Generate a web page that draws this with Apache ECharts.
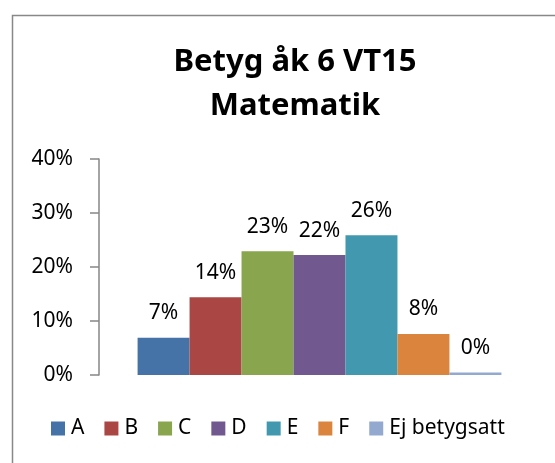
<!DOCTYPE html>
<html style="height: 100%">
<head>
    <meta charset="utf-8">
    <title>Betyg åk 6 VT15</title>
    <script src="https://cdn.jsdelivr.net/npm/echarts/dist/echarts.min.js"></script>
</head>
<body style="height: 100%; margin: 0; background: #fff">
    <div id="main" style="width: 555px; height: 463px"></div>
    <script type="text/javascript">
        var chart = echarts.init(document.getElementById('main'));

        // data (percent)
        var grades = ['A', 'B', 'C', 'D', 'E', 'F', 'Ej betygsatt'];
        var shares = [6.9, 14.4, 22.9, 22.2, 25.9, 7.6, 0.45];
        var colors = ['#4572A7', '#AA4643', '#89A54E', '#71588F', '#4198AF', '#DB843D', '#93A9CF'];
        var yTicks = [0, 10, 20, 30, 40];

        var font = 'Noto Sans';

        var series = grades.map(function (g, i) {
            return {
                name: g,
                type: 'bar',
                data: [shares[i]],
                barGap: '0%',
                barCategoryGap: '17.5%',
                itemStyle: { color: colors[i] },
                label: {
                    show: true,
                    position: 'top',
                    distance: 14,
                    color: '#000',
                    fontFamily: font,
                    fontSize: 21,
                    formatter: function (p) { return Math.round(p.value) + '%'; }
                }
            };
        });

        var option = {
            backgroundColor: '#fff',
            animation: false,
            graphic: [{
                type: 'rect',
                left: 10, top: 13,
                shape: { width: 700, height: 600 },
                style: { fill: 'none', stroke: '#888', lineWidth: 1.5 },
                silent: true
            }],
            title: {
                text: 'Betyg åk 6 VT15\nMatematik',
                left: 290,
                textAlign: 'center',
                top: 35,
                textStyle: {
                    fontFamily: font,
                    fontWeight: 'bold',
                    fontSize: 31,
                    lineHeight: 44,
                    color: '#000'
                }
            },
            legend: {
                data: grades,
                left: 51,
                top: 418,
                padding: 0,
                icon: 'rect',
                itemWidth: 14,
                itemHeight: 14,
                itemGap: 20,
                textStyle: { fontFamily: font, fontSize: 21, color: '#000', padding: [0, 0, 0, 1] }
            },
            grid: { left: 99, right: 15, top: 159, bottom: 88 },
            xAxis: {
                type: 'category',
                data: [''],
                axisLine: { show: false },
                axisTick: { show: false },
                axisLabel: { show: false }
            },
            yAxis: {
                type: 'value',
                min: yTicks[0],
                max: yTicks[yTicks.length - 1],
                interval: 10,
                splitLine: { show: false },
                axisLine: { show: true, lineStyle: { color: '#868686', width: 1.5 } },
                axisTick: { show: true, length: 9, lineStyle: { color: '#868686', width: 1.5 } },
                axisLabel: {
                    margin: 26,
                    color: '#000',
                    fontFamily: font,
                    fontSize: 21,
                    formatter: '{value}%'
                }
            },
            series: series
        };

        chart.setOption(option);
    </script>
</body>
</html>
